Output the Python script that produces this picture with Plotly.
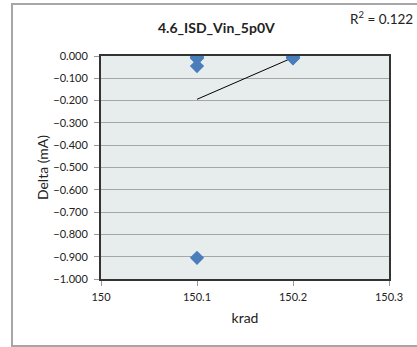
import numpy as np
import plotly.graph_objects as go

# data
krad = [150.1, 150.1, 150.1, 150.1, 150.1, 150.2, 150.2, 150.2, 150.2, 150.2]
delta_ma = [-0.003, -0.008, -0.010, -0.045, -0.905, -0.004, -0.006, -0.007, -0.008, -0.010]
x_ticks = [150, 150.1, 150.2, 150.3]
title = "4.6_ISD_Vin_5p0V"

xa = np.array(krad)
ya = np.array(delta_ma)
slope, intercept = np.polyfit(xa, ya, 1)
fit = slope * xa + intercept
r2 = 1 - np.sum((ya - fit) ** 2) / np.sum((ya - ya.mean()) ** 2)
tx = [xa.min(), xa.max()]
ty = [slope * v + intercept for v in tx]

FONT = "Lato, 'Open Sans', sans-serif"

fig = go.Figure()
fig.add_trace(go.Scatter(x=tx, y=ty, mode="lines",
                         line=dict(color="black", width=1), showlegend=False))
fig.add_trace(go.Scatter(x=krad, y=delta_ma, mode="markers",
                         marker=dict(symbol="diamond", size=11, color="#4a7ebb",
                                     line=dict(width=0)),
                         showlegend=False))

L, R, T, B = 101, 389, 56, 279
W, H = 417, 347
pw, ph = R - L, B - T

def px(x):
    return (x - L) / pw

def py(y):
    return (B - y) / ph

fig.update_layout(
    width=W, height=H,
    margin=dict(l=L, r=W - R, t=T, b=H - B, pad=0),
    paper_bgcolor="white",
    plot_bgcolor="#e7eded",
    font=dict(family=FONT, size=11, color="#222"),
    xaxis=dict(range=[150, 150.3], tickvals=x_ticks, ticktext=[str(v) for v in x_ticks],
               showgrid=False, zeroline=False, showline=True, linecolor="#333",
               linewidth=2, mirror=True, ticks="outside", ticklen=5, tickcolor="#999",
               tickfont=dict(size=11), ticklabelstandoff=2,
               title=dict(text="krad", font=dict(size=14), standoff=11)),
    yaxis=dict(range=[-1, 0], dtick=0.1, tickformat=".3f", showgrid=True,
               gridcolor="#a6a6a6", gridwidth=1, zeroline=False, showline=True,
               linecolor="#333", linewidth=2, mirror=True, ticks="outside",
               ticklen=5, tickcolor="#999", tickfont=dict(size=11),
               ticklabelstandoff=4,
               title=dict(text="Delta (mA)", font=dict(size=14), standoff=1)),
    shapes=[dict(type="rect", xref="paper", yref="paper",
                 x0=px(12), x1=px(430), y0=py(346), y1=py(4),
                 line=dict(color="#a6a6a6", width=2), fillcolor="rgba(0,0,0,0)",
                 layer="below")],
    annotations=[
        dict(text="<b>" + title + "</b>", xref="paper", yref="paper",
             x=px(216), y=py(27), showarrow=False, xanchor="center", yanchor="middle",
             font=dict(size=14, color="#222")),
        dict(text="R<sup>2</sup> = %.3f" % r2, xref="paper", yref="paper",
             x=px(415), y=py(18), showarrow=False, xanchor="right", yanchor="middle",
             font=dict(size=13.5, color="#222")),
    ],
)

fig.write_html("out.html", config={"displayModeBar": False},
               post_script="document.body.style.margin='0';document.body.style.overflow='hidden';")
